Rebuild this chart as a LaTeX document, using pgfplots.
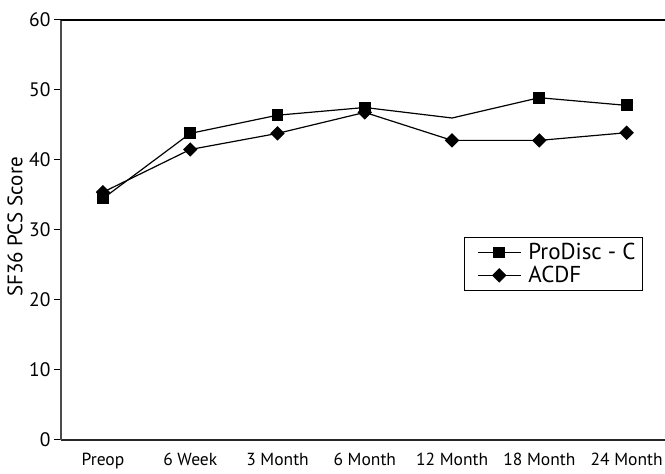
\documentclass[border=0pt]{standalone}
\usepackage{pgfplots}
\pgfplotsset{compat=1.18}
\usepackage{fontspec}
\setmainfont{PT Sans}
\begin{document}
\begin{tikzpicture}
\useasboundingbox (0,0) rectangle (665pt,474pt);
\begin{axis}[
  at={(61pt,34pt)}, anchor=south west,
  scale only axis, width=604pt, height=420pt,
  xmin=-0.481, xmax=6.44, ymin=0, ymax=60,
  axis x line*=bottom, axis y line*=left,
  x axis line style={line width=1.5pt, black!85},
  y axis line style={line width=1.8pt, black!70},
  xtick={0,...,6},
  xticklabels={Preop,6 Week,3 Month,6 Month,12 Month,18 Month,24 Month},
  ytick={0,10,...,60},
  tick align=outside, major tick length=7pt,
  xtick style={draw=none},
  ytick style={line width=1pt, black},
  /pgf/number format/assume math mode=true,
  yticklabel style={font=\fontsize{19.5}{20}\selectfont},
  xticklabel style={font=\fontsize{17.5}{18}\selectfont, yshift=-3pt},
  ylabel={SF36 PCS Score},
  every axis y label/.style={at={(axis description cs:-0.076,0.507)}, rotate=90, anchor=center, font=\fontsize{21}{21}\selectfont},
  legend style={at={(axis description cs:0.9636,0.4833)}, anchor=north east, draw=black, line width=1pt, font=\fontsize{23}{23}\selectfont, row sep=1pt, inner xsep=5pt, inner ysep=4pt},
  legend cell align=left,
  legend image code/.code={\path (-8pt,0pt) (48pt,0pt); \draw[mark indices={2}] plot coordinates {(0pt,0pt) (21.5pt,0pt) (43pt,0pt)};},
]
\addplot[black, line width=1.2pt, mark=square*, mark size=5.3pt, mark indices={1,2,3,4,6,7}] coordinates {
(0,34.5) (1,43.8) (2,46.4) (3,47.5) (4,46.0) (5,48.9) (6,47.8)};
\addlegendentry{ProDisc - C}
\addplot[black, line width=1.2pt, mark=square*, mark size=4.5pt, mark options={rotate=45}] coordinates {
(0,35.4) (1,41.5) (2,43.8) (3,46.8) (4,42.8) (5,42.8) (6,43.9)};
\addlegendentry{ACDF}
\draw[line width=1.2pt, black] (rel axis cs:0,1) -- (rel axis cs:1,1);
\end{axis}
\end{tikzpicture}
\end{document}
